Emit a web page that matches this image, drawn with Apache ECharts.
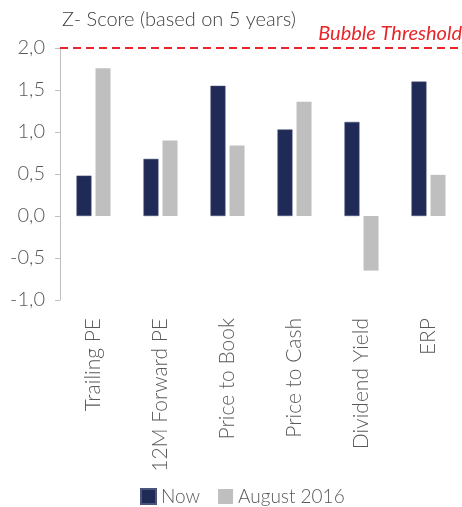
<!DOCTYPE html>
<html>
<head>
<meta charset="utf-8">
<style>
  html, body { margin: 0; padding: 0; background: #fff; }
  #chart { width: 462px; height: 507px; }
</style>
<script src="https://cdn.jsdelivr.net/npm/echarts@6/dist/echarts.min.js"></script>
</head>
<body>
<div id="chart"></div>
<script>
// data
const categories = ['Trailing PE', '12M Forward PE', 'Price to Book', 'Price to Cash', 'Dividend Yield', 'ERP'];
const nowValues = [0.48, 0.68, 1.55, 1.03, 1.12, 1.60];
const aug2016Values = [1.76, 0.90, 0.84, 1.36, -0.65, 0.49];
const threshold = 2.0;

const font = 'Lato, "Open Sans", sans-serif';

const chart = echarts.init(document.getElementById('chart'), null, { renderer: 'canvas' });

let options = {
  backgroundColor: '#ffffff',
  animation: false,
  textStyle: { fontFamily: font },
  title: [{
    text: 'Z- Score (based on 5 years)',
    left: 62,
    top: 10,
    padding: 0,
    textStyle: { fontFamily: font, fontSize: 20, fontWeight: 300, color: '#404040' }
  }, {
    text: 'Bubble Threshold',
    right: 0,
    top: 24,
    padding: 0,
    textStyle: { fontFamily: font, fontSize: 20, fontWeight: 'normal', fontStyle: 'italic', color: '#e8262a' }
  }],
  legend: {
    left: 140,
    bottom: 0,
    padding: [5, 5, 1, 0],
    itemWidth: 15,
    itemHeight: 15,
    itemGap: 18,
    icon: 'rect',
    textStyle: { fontFamily: font, fontSize: 19, fontWeight: 300, color: '#595959' },
    data: ['Now', 'August 2016']
  },
  grid: {
    left: 60,
    top: 48,
    width: 408,
    height: 252
  },
  xAxis: {
    type: 'category',
    data: categories,
    axisLine: { show: false, onZero: false },
    axisTick: { show: false },
    axisLabel: {
      rotate: 90,
      margin: 18,
      fontFamily: font,
      fontSize: 21,
      fontWeight: 300,
      color: '#595959'
    }
  },
  yAxis: {
    type: 'value',
    min: -1,
    max: 2,
    interval: 0.5,
    splitLine: { show: false },
    axisLine: { show: true, lineStyle: { color: '#bfbfbf', width: 1 } },
    axisTick: { show: true, length: 5, lineStyle: { color: '#bfbfbf' } },
    axisLabel: {
      margin: 15,
      fontFamily: font,
      fontSize: 20,
      fontWeight: 300,
      color: '#595959',
      formatter: v => v.toFixed(1).replace('.', ',')
    }
  },
  series: [{
    name: 'Now',
    type: 'bar',
    data: nowValues,
    barWidth: 15,
    barGap: '27%',
    itemStyle: { color: '#1f2a56', borderColor: '#4a5379', borderWidth: 0.5 },
    markLine: {
      silent: true,
      symbol: 'none',
      label: { show: false },
      lineStyle: { color: '#e8262a', type: [8, 5], width: 2 },
      data: [{ yAxis: threshold }]
    }
  }, {
    name: 'August 2016',
    type: 'bar',
    data: aug2016Values,
    barWidth: 15,
    itemStyle: { color: '#bfbfbf' }
  }]
};

chart.setOption(options);
</script>
</body>
</html>
